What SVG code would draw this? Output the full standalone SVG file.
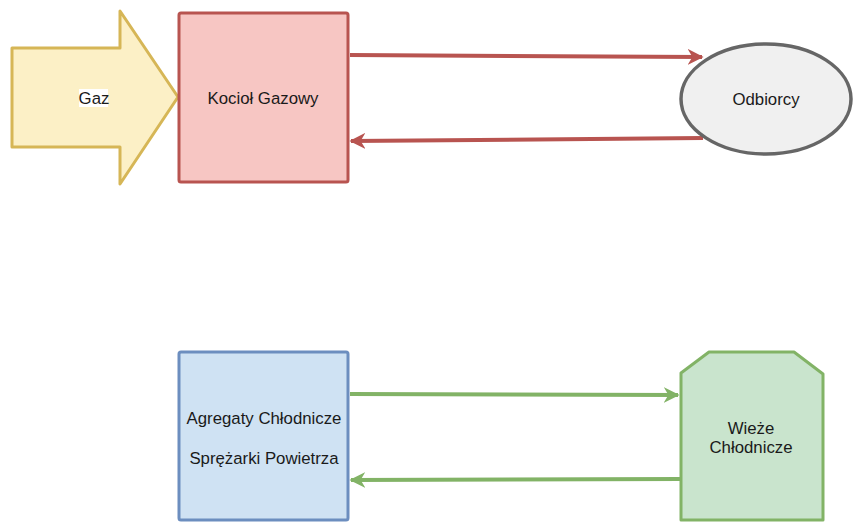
<svg xmlns="http://www.w3.org/2000/svg" width="860" height="523" viewBox="0 0 860 523">
<defs>
<style>
text{font-family:"Liberation Sans",Arial,sans-serif;font-size:16.8px;fill:#1a1a1a;text-anchor:middle;dominant-baseline:central}
.c{fill:none;stroke-width:4}
</style>
<marker id="ar" viewBox="0 0 10 10" refX="9" refY="5" markerWidth="4" markerHeight="4" orient="auto" markerUnits="strokeWidth"><path d="M0,0 L10,5 L0,10 L3,5 Z" fill="#b85450"/></marker>
<marker id="ag" viewBox="0 0 10 10" refX="9" refY="5" markerWidth="4" markerHeight="4" orient="auto" markerUnits="strokeWidth"><path d="M0,0 L10,5 L0,10 L3,5 Z" fill="#82b366"/></marker>
</defs>
<rect width="860" height="523" fill="#fff"/>
<g id="connectors">
<path class="c" d="M350,55 L702,57" stroke="#b85450" stroke-width="3" marker-end="url(#ar)"/>
<path class="c" d="M703,138 L351,141" stroke="#b85450" stroke-width="3" marker-end="url(#ar)"/>
<path class="c" d="M350,394 L678,395" stroke="#82b366" stroke-width="3" marker-end="url(#ag)"/>
<path class="c" d="M681,479 L351,480" stroke="#82b366" stroke-width="3" marker-end="url(#ag)"/>
</g>
<g id="gaz">
<path d="M12,48 L120,48 L120,11 L178,97 L120,184 L120,147 L12,147 Z" fill="#fcf0c6" stroke="#d6b656" stroke-width="3" stroke-linejoin="round"/>
<rect x="79" y="89" width="29" height="18" fill="#fff"/>
<text x="94" y="98">Gaz</text>
</g>
<g id="kociol">
<rect x="179" y="13" width="169" height="169" rx="2" fill="#f7c6c3" stroke="#b85450" stroke-width="3"/>
<text x="263" y="98">Kocioł Gazowy</text>
</g>
<g id="odbiorcy">
<ellipse cx="766" cy="99" rx="85" ry="55" fill="#f0f0f0" stroke="#666" stroke-width="3.5"/>
<text x="766" y="99">Odbiorcy</text>
</g>
<g id="agregaty">
<rect x="179" y="352" width="169" height="168" rx="2" fill="#cfe2f3" stroke="#6c8ebf" stroke-width="3"/>
<text x="264" y="418">Agregaty Chłodnicze</text>
<text x="264" y="458">Sprężarki Powietrza</text>
</g>
<g id="wieze">
<path d="M709,352 L794,352 L823,374 L823,520 L681,520 L681,373 Z" fill="#c9e4cd" stroke="#82b366" stroke-width="3" stroke-linejoin="round"/>
<text x="751" y="428">Wieże</text>
<text x="751" y="447">Chłodnicze</text>
</g>
</svg>
